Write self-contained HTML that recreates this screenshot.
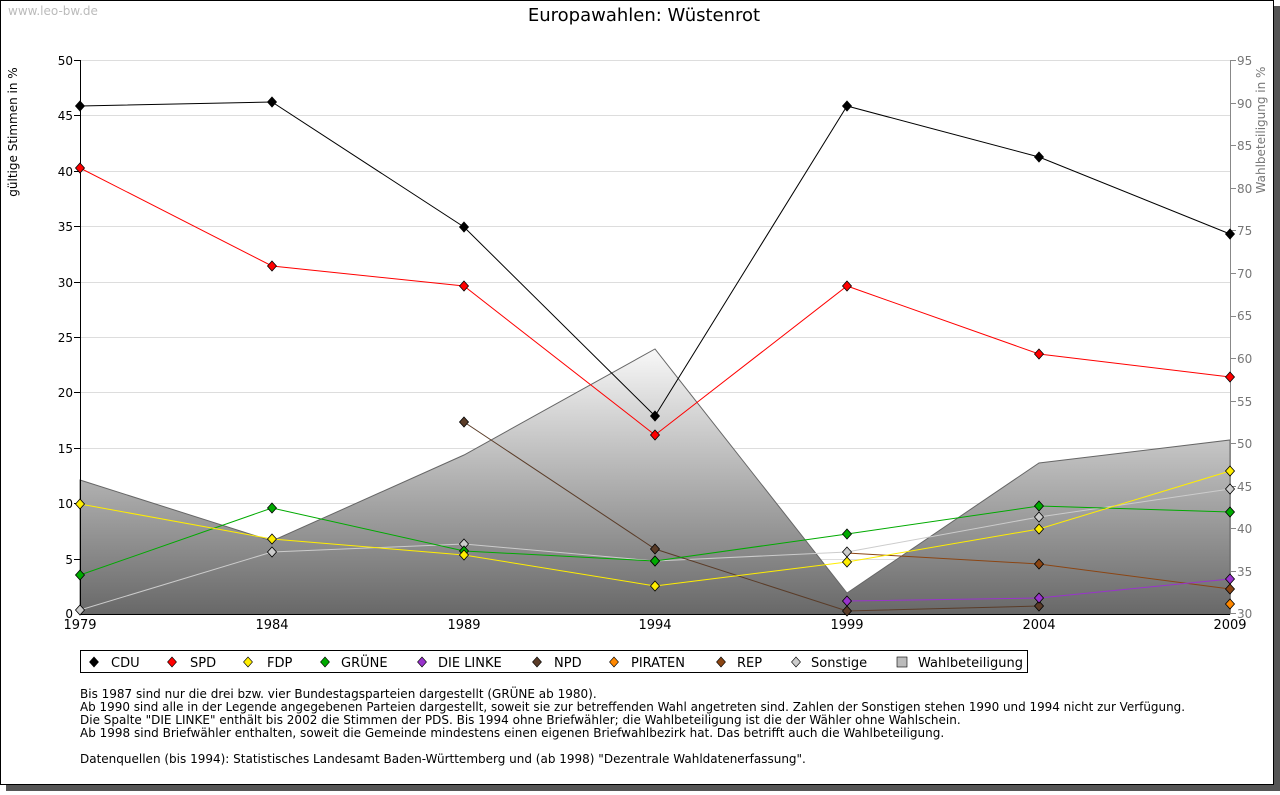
<!DOCTYPE html><html><head><meta charset="utf-8"><style>
body{margin:0;background:#fff;font-family:"DejaVu Sans","Liberation Sans",sans-serif;}
</style></head><body>
<svg width="1280" height="791" xmlns="http://www.w3.org/2000/svg" xmlns:xlink="http://www.w3.org/1999/xlink" font-family="DejaVu Sans, Liberation Sans, sans-serif">
<defs><linearGradient id="g" gradientUnits="userSpaceOnUse" x1="0" y1="349" x2="0" y2="614"><stop offset="0" stop-color="#f8f8f8"/><stop offset="1" stop-color="#686868"/></linearGradient>
<path id="d" d="M0,-5 L4.5,0 L0,5 L-4.5,0 Z"/></defs>
<rect x="0" y="0" width="1280" height="791" fill="#fff"/>
<rect x="6" y="6" width="1274" height="785" fill="#555"/>
<rect x="0.5" y="0.5" width="1273" height="784" fill="#fff" stroke="#000"/>
<text x="8" y="15" font-size="12" fill="#bbb">www.leo-bw.de</text>
<text x="644" y="21" font-size="18" text-anchor="middle">Europawahlen: Wüstenrot</text>
<g stroke="#ddd" stroke-width="1">
<line x1="80" x2="1230" y1="60.5" y2="60.5"/><line x1="80" x2="1230" y1="115.5" y2="115.5"/><line x1="80" x2="1230" y1="171.5" y2="171.5"/><line x1="80" x2="1230" y1="226.5" y2="226.5"/><line x1="80" x2="1230" y1="282.5" y2="282.5"/><line x1="80" x2="1230" y1="337.5" y2="337.5"/><line x1="80" x2="1230" y1="392.5" y2="392.5"/><line x1="80" x2="1230" y1="448.5" y2="448.5"/><line x1="80" x2="1230" y1="503.5" y2="503.5"/><line x1="80" x2="1230" y1="559.5" y2="559.5"/>
</g>
<polygon points="80,480 272,541 464,455 655,349 847,593 1039,463 1230,440 1230,614 80,614" fill="url(#g)" stroke="#666" stroke-width="1"/>
<g stroke="#000" stroke-width="1">
<line x1="80.5" y1="60" x2="80.5" y2="614"/><line x1="80" y1="614.5" x2="1230" y2="614.5"/>
<line x1="74" x2="80" y1="60.5" y2="60.5"/><line x1="74" x2="80" y1="115.5" y2="115.5"/><line x1="74" x2="80" y1="171.5" y2="171.5"/><line x1="74" x2="80" y1="226.5" y2="226.5"/><line x1="74" x2="80" y1="282.5" y2="282.5"/><line x1="74" x2="80" y1="337.5" y2="337.5"/><line x1="74" x2="80" y1="392.5" y2="392.5"/><line x1="74" x2="80" y1="448.5" y2="448.5"/><line x1="74" x2="80" y1="503.5" y2="503.5"/><line x1="74" x2="80" y1="559.5" y2="559.5"/>
</g>
<line x1="1230.5" y1="60" x2="1230.5" y2="614" stroke="#888"/>
<path stroke="#888" d="M1230,60.5h6M1230,103.5h6M1230,145.5h6M1230,188.5h6M1230,230.5h6M1230,273.5h6M1230,316.5h6M1230,358.5h6M1230,401.5h6M1230,443.5h6M1230,486.5h6M1230,528.5h6M1230,571.5h6M1230,613.5h6"/>
<g font-size="12" text-anchor="end">
<text x="73" y="65">50</text><text x="73" y="120">45</text><text x="73" y="176">40</text><text x="73" y="231">35</text><text x="73" y="287">30</text><text x="73" y="342">25</text><text x="73" y="397">20</text><text x="73" y="453">15</text><text x="73" y="508">10</text><text x="73" y="564">5</text><text x="73" y="618">0</text>
</g>
<g font-size="12" fill="#777">
<text x="1237" y="65">95</text><text x="1237" y="108">90</text><text x="1237" y="150">85</text><text x="1237" y="193">80</text><text x="1237" y="235">75</text><text x="1237" y="278">70</text><text x="1237" y="320">65</text><text x="1237" y="363">60</text><text x="1237" y="406">55</text><text x="1237" y="448">50</text><text x="1237" y="491">45</text><text x="1237" y="533">40</text><text x="1237" y="576">35</text><text x="1237" y="618">30</text>
</g>
<g font-size="13" text-anchor="middle">
<text x="80" y="629">1979</text><text x="272" y="629">1984</text><text x="464" y="629">1989</text><text x="655" y="629">1994</text><text x="847" y="629">1999</text><text x="1039" y="629">2004</text><text x="1230" y="629">2009</text>
</g>
<text transform="translate(17,132) rotate(-90)" font-size="12" text-anchor="middle">gültige Stimmen in %</text>
<text transform="translate(1265,130) rotate(-90)" font-size="12" fill="#777" text-anchor="middle">Wahlbeteiligung in %</text>
<g fill="none" stroke-width="1">
<polyline stroke="#ccc" points="80,610 272,552 464,544 655,561 847,552 1039,517 1230,489"/>
<polyline stroke="#5a3c28" points="464,422 655,549 847,611 1039,606"/>
<polyline stroke="#8b4513" points="847,553 1039,564 1230,589"/>
<polyline stroke="#9933cc" points="847,601 1039,598 1230,579"/>
<polyline stroke="#00aa00" points="80,575 272,508 464,551 655,561 847,534 1039,506 1230,512"/>
<polyline stroke="#ffee00" points="80,504 272,539 464,555 655,586 847,562 1039,529 1230,471"/>
<polyline stroke="#ff0000" points="80,168 272,266 464,286 655,435 847,286 1039,354 1230,377"/>
<polyline stroke="#000" points="80,106 272,102 464,227 655,416 847,106 1039,157 1230,234"/>
</g>
<g stroke="#000" stroke-width="0.8">
<g fill="#ccc"><use xlink:href="#d" x="80" y="610"/><use xlink:href="#d" x="272" y="552"/><use xlink:href="#d" x="464" y="544"/><use xlink:href="#d" x="655" y="561"/><use xlink:href="#d" x="847" y="552"/><use xlink:href="#d" x="1039" y="517"/><use xlink:href="#d" x="1230" y="489"/></g>
<g fill="#5a3c28"><use xlink:href="#d" x="464" y="422"/><use xlink:href="#d" x="655" y="549"/><use xlink:href="#d" x="847" y="611"/><use xlink:href="#d" x="1039" y="606"/></g>
<g fill="#8b4513"><use xlink:href="#d" x="1039" y="564"/><use xlink:href="#d" x="1230" y="589"/></g>
<use xlink:href="#d" x="1230" y="604" fill="#ff8800"/>
<g fill="#9933cc"><use xlink:href="#d" x="847" y="601"/><use xlink:href="#d" x="1039" y="598"/><use xlink:href="#d" x="1230" y="579"/></g>
<g fill="#00aa00"><use xlink:href="#d" x="80" y="575"/><use xlink:href="#d" x="272" y="508"/><use xlink:href="#d" x="464" y="551"/><use xlink:href="#d" x="655" y="561"/><use xlink:href="#d" x="847" y="534"/><use xlink:href="#d" x="1039" y="506"/><use xlink:href="#d" x="1230" y="512"/></g>
<g fill="#ffee00"><use xlink:href="#d" x="80" y="504"/><use xlink:href="#d" x="272" y="539"/><use xlink:href="#d" x="464" y="555"/><use xlink:href="#d" x="655" y="586"/><use xlink:href="#d" x="847" y="562"/><use xlink:href="#d" x="1039" y="529"/><use xlink:href="#d" x="1230" y="471"/></g>
<g fill="#ff0000"><use xlink:href="#d" x="80" y="168"/><use xlink:href="#d" x="272" y="266"/><use xlink:href="#d" x="464" y="286"/><use xlink:href="#d" x="655" y="435"/><use xlink:href="#d" x="847" y="286"/><use xlink:href="#d" x="1039" y="354"/><use xlink:href="#d" x="1230" y="377"/></g>
<g fill="#000"><use xlink:href="#d" x="80" y="106"/><use xlink:href="#d" x="272" y="102"/><use xlink:href="#d" x="464" y="227"/><use xlink:href="#d" x="655" y="416"/><use xlink:href="#d" x="847" y="106"/><use xlink:href="#d" x="1039" y="157"/><use xlink:href="#d" x="1230" y="234"/></g>
</g>
<rect x="80.5" y="650.5" width="947" height="22" fill="#fff" stroke="#000"/>
<g stroke="#000" stroke-width="0.6">
<use xlink:href="#d" x="94" y="662" fill="#000"/><use xlink:href="#d" x="172" y="662" fill="#f00"/><use xlink:href="#d" x="248" y="662" fill="#ffee00"/><use xlink:href="#d" x="325" y="662" fill="#00aa00"/><use xlink:href="#d" x="422" y="662" fill="#9933cc"/><use xlink:href="#d" x="537" y="662" fill="#5a3c28"/><use xlink:href="#d" x="614" y="662" fill="#ff8800"/><use xlink:href="#d" x="721" y="662" fill="#8b4513"/><use xlink:href="#d" x="796" y="662" fill="#ccc"/>
<rect x="897" y="657" width="10" height="10" fill="#bbb"/>
</g>
<g font-size="13">
<text x="111" y="667">CDU</text><text x="190" y="667">SPD</text><text x="267" y="667">FDP</text><text x="341" y="667">GRÜNE</text><text x="438" y="667">DIE LINKE</text><text x="554" y="667">NPD</text><text x="631" y="667">PIRATEN</text><text x="737" y="667">REP</text><text x="811" y="667">Sonstige</text><text x="918" y="667">Wahlbeteiligung</text>
</g>
<g font-size="12" textLength="1105">
<text x="80" y="698">Bis 1987 sind nur die drei bzw. vier Bundestagsparteien dargestellt (GRÜNE ab 1980).</text>
<text x="80" y="711" textLength="1105" lengthAdjust="spacingAndGlyphs">Ab 1990 sind alle in der Legende angegebenen Parteien dargestellt, soweit sie zur betreffenden Wahl angetreten sind. Zahlen der Sonstigen stehen 1990 und 1994 nicht zur Verfügung.</text>
<text x="80" y="724">Die Spalte "DIE LINKE" enthält bis 2002 die Stimmen der PDS. Bis 1994 ohne Briefwähler; die Wahlbeteiligung ist die der Wähler ohne Wahlschein.</text>
<text x="80" y="737">Ab 1998 sind Briefwähler enthalten, soweit die Gemeinde mindestens einen eigenen Briefwahlbezirk hat. Das betrifft auch die Wahlbeteiligung.</text>
<text x="80" y="763">Datenquellen (bis 1994): Statistisches Landesamt Baden-Württemberg und (ab 1998) "Dezentrale Wahldatenerfassung".</text>
</g>
</svg>
</body></html>
